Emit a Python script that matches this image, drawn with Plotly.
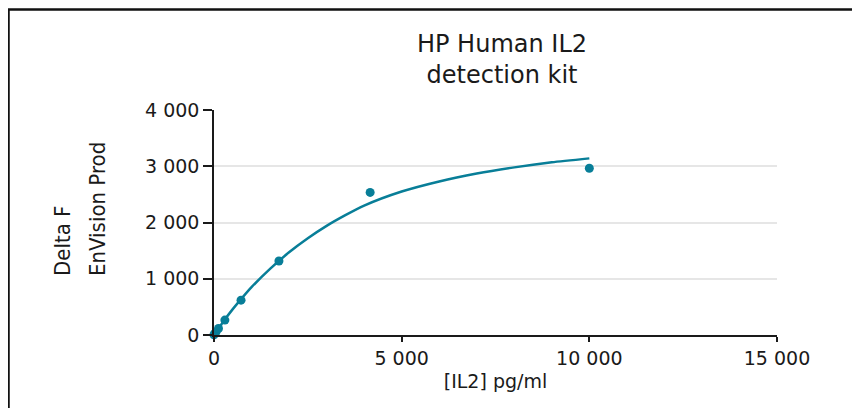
import plotly.graph_objects as go

# Measured standards
conc_points = [0, 20, 50, 120, 290, 720, 1730, 4160, 10000]
signal_points = [5, 25, 50, 115, 265, 620, 1315, 2535, 2965]

# Fitted curve
conc_curve = [0, 250, 500, 750, 1000, 1500, 2000, 2500, 3000, 3500, 4000,
              5000, 6000, 7000, 8000, 9000, 10000]
signal_curve = [0, 240, 460, 660, 850, 1180, 1470, 1720, 1940, 2130, 2300,
                2550, 2730, 2870, 2980, 3070, 3140]

x_ticks = [0, 5000, 10000, 15000]
x_tick_labels = ["0", "5 000", "10 000", "15 000"]
y_ticks = [0, 1000, 2000, 3000, 4000]
y_tick_labels = ["0", "1 000", "2 000", "3 000", "4 000"]

TEAL = "#087e98"
INK = "#1a1a1a"
W, H = 860, 408
OFF = 8  # page body offset
L, R, T, B = 214 - OFF, W - 777 + OFF, 110 - OFF, H - 335 + OFF

fig = go.Figure()
fig.add_trace(go.Scatter(x=conc_curve, y=signal_curve, mode="lines",
                         line=dict(color=TEAL, width=2.5, shape="spline", smoothing=0.6),
                         hoverinfo="skip", cliponaxis=False))
fig.add_trace(go.Scatter(x=conc_points, y=signal_points, mode="markers",
                         marker=dict(color=TEAL, size=9, symbol="circle"),
                         cliponaxis=False))

pw = W - L - R
ph = H - T - B
def px(xs):  # screen pixel -> paper
    return (xs - OFF - L) / pw
def py(ys):
    return (H - B - (ys - OFF)) / ph

fig.update_layout(
    width=W, height=H,
    margin=dict(l=L, r=R, t=T, b=B),
    paper_bgcolor="white", plot_bgcolor="white",
    showlegend=False,
    font=dict(family="DejaVu Sans", color=INK),
    title=dict(text="HP Human IL2<br>detection kit",
               font=dict(family="DejaVu Sans", size=24, color=INK),
               xref="paper", x=px(502), xanchor="center",
               yref="container", y=1 - (52 - OFF) / H, yanchor="middle"),
    xaxis=dict(range=[0, 15000], tickvals=x_ticks, ticktext=x_tick_labels,
               showgrid=False, zeroline=False, showline=True,
               linecolor=INK, linewidth=1.5,
               ticks="outside", ticklen=5, tickwidth=1.5, tickcolor=INK,
               tickfont=dict(family="DejaVu Sans", size=19, color=INK),
               title=dict(text="[IL2] pg/ml", standoff=7,
                          font=dict(family="DejaVu Sans", size=19, color=INK))),
    yaxis=dict(range=[0, 4000], tickvals=y_ticks, ticktext=y_tick_labels,
               showgrid=True, gridcolor="#e6e6e6", gridwidth=1.5,
               zeroline=False, showline=True,
               linecolor=INK, linewidth=1.5,
               ticks="outside", ticklen=9, tickwidth=1.5, tickcolor=INK,
               tickfont=dict(family="DejaVu Sans", size=19, color=INK)),
)

ytitle_font = dict(family="Liberation Sans Narrow, DejaVu Sans Condensed, sans-serif",
                   size=22, color=INK)
fig.add_annotation(text="Delta F", textangle=-90,
                   xref="paper", yref="paper", x=px(62), y=py(278),
                   xanchor="center", yanchor="bottom", showarrow=False,
                   font=ytitle_font)
fig.add_annotation(text="EnVision Prod", textangle=-90,
                   xref="paper", yref="paper", x=px(97), y=py(278),
                   xanchor="center", yanchor="bottom", showarrow=False,
                   font=ytitle_font)

# frame (left + top edges)
fig.add_shape(type="path", xref="paper", yref="paper",
              path=f"M {px(8.5)},{py(H + 20)} L {px(8.5)},{py(9.5)} L {px(W + 20)},{py(9.5)}",
              line=dict(color="#111111", width=2.5))

fig.write_html("out.html")
